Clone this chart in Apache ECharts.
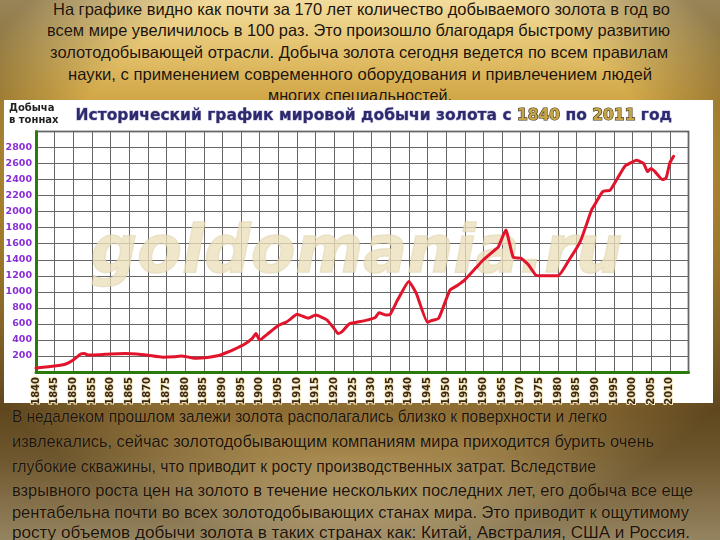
<!DOCTYPE html>
<html>
<head>
<meta charset="utf-8">
<script src="https://cdn.jsdelivr.net/npm/echarts@6/dist/echarts.min.js"></script>
<style>
  html, body { margin:0; padding:0; width:720px; height:540px; overflow:hidden; }
  body {
    position: relative;
    background: linear-gradient(to bottom, #f2dc9c 0%, #e2c06a 10%, #cfa443 19%, #b98e34 45%, #9a7634 70%, #8c6c33 76%, #a4864c 84%, #c9b07a 92%, #efdcab 100%);
    font-family: "Liberation Sans", Arial, sans-serif;
  }
  #vign {
    position:absolute; left:0; top:0; width:720px; height:540px;
    background: radial-gradient(ellipse 60% 62% at 50% 40%, rgba(0,0,0,0) 72%, rgba(40,25,5,0.45) 100%);
  }
  .ln { position:absolute; color:#1c1206; text-shadow: 0 0 1px rgba(255,240,200,0.35); white-space:nowrap; transform-origin: 0 50%; }
  #box { position:absolute; left:4px; top:100px; width:709px; height:303px; background:#ffffff; }
  #chart { position:absolute; left:0; top:0; width:720px; height:540px; }
</style>
</head>
<body>
<div id="vign"></div>
<div id="texts"></div>
<div id="box"></div>
<div id="chart"></div>
<script>
// Data (year, tonnes)
var years = [1840,1845,1848,1850,1852,1853,1854,1857,1860,1864,1867,1870,1874,1877,1879,1881,1883,1886,1889,1891,1893,1896,1898,1899,1900,1902,1905,1907,1908,1910,1913,1915,1918,1920,1921,1922,1924,1926,1929,1931,1932,1934,1935,1937,1940,1942,1945,1946,1948,1951,1953,1955,1958,1960,1963,1964,1966,1968,1970,1972,1974,1975,1980,1983,1986,1989,1990,1992,1994,1996,1998,2000,2001,2003,2004,2005,2006,2008,2009,2010,2011];
var tonnes = [50,75,100,150,225,230,212,215,225,230,225,210,185,190,200,185,170,180,205,240,280,350,420,480,400,470,580,620,650,720,670,710,650,540,480,500,600,620,650,680,740,710,720,900,1130,980,620,640,670,1020,1080,1150,1300,1400,1520,1560,1770,1430,1420,1340,1210,1200,1200,1400,1630,2020,2100,2250,2270,2420,2570,2620,2640,2600,2500,2540,2500,2400,2420,2610,2690];
var titleMain = 'Исторический график мировой добычи золота с ';
var titleYear1 = '1840';
var titleMid = ' по ';
var titleYear2 = '2011';
var titleEnd = ' год';
var yAxisTitle = 'Добыча\nв тоннах';
var watermark = 'goldomania.ru';
var topLines = [
  'На графике видно как почти за 170 лет количество добываемого золота в год во',
  'всем мире увеличилось в 100 раз. Это произошло благодаря быстрому развитию',
  'золотодобывающей отрасли. Добыча золота сегодня ведется по всем правилам',
  'науки, с применением современного оборудования и привлечением людей',
  'многих специальностей.'
];
var bottomLines = [
  'В недалеком прошлом залежи золота располагались близко к поверхности и легко',
  'извлекались, сейчас золотодобывающим компаниям мира приходится бурить очень',
  'глубокие скважины, что приводит к росту производственных затрат. Вследствие',
  'взрывного роста цен на золото в течение нескольких последних лет, его добыча все еще',
  'рентабельна почти во всех золотодобывающих станах мира. Это приводит к ощутимому',
  'росту объемов добычи золота в таких странах как: Китай, Австралия, США и Россия.'
];

// layout of slide text lines: [left, right, centerY]
var topLayout = [[53,670,9],[47,670,30],[50,668,52],[68,652,74],[268,452,95]];
var botLayout = [[12,607,416],[12,654,441],[12,596,466],[12,693,490],[12,689,512],[12,690,532]];
function placeLines(lines, layout, size) {
  var host = document.getElementById('texts');
  lines.forEach(function (t, i) {
    var d = document.createElement('div');
    d.className = 'ln';
    d.textContent = t;
    d.style.fontSize = size + 'px';
    d.style.lineHeight = (size + 4) + 'px';
    host.appendChild(d);
    var w = d.getBoundingClientRect().width;
    var L = layout[i];
    d.style.left = L[0] + 'px';
    d.style.top = (L[2] - (size + 4) / 2) + 'px';
    d.style.transform = 'scaleX(' + ((L[1] - L[0]) / w) + ')';
  });
}
placeLines(topLines, topLayout, 16.5);
placeLines(bottomLines, botLayout, 17);

var points = years.map(function (y, i) { return [y, tonnes[i]]; });

var chart = echarts.init(document.getElementById('chart'), null, { renderer: 'canvas' });
chart.setOption({
  backgroundColor: 'transparent',
  animation: false,
  grid: { left: 36, top: 131.5, right: 31.5, bottom: 168, show: true, borderColor: '#111', borderWidth: 1.5, backgroundColor: 'transparent' },
  xAxis: {
    type: 'value', min: 1840, max: 2015, interval: 5,
    axisLine: { show: true, lineStyle: { color: '#2c7a0c', width: 3 } },
    axisTick: { show: false },
    splitLine: { show: true, lineStyle: { color: '#666', width: 1 } },
    axisLabel: {
      rotate: 90, margin: 5, fontSize: 10, fontWeight: 'bold', fontFamily: 'DejaVu Sans',
      color: '#3a2812', textBorderColor: '#f3e6bf', textBorderWidth: 2,
      formatter: function (v) { return v >= 2015 ? '' : String(v); }
    }
  },
  yAxis: {
    type: 'value', min: 0, max: 3000, interval: 200,
    axisLine: { show: true, lineStyle: { color: '#2c7a0c', width: 3 } },
    axisTick: { show: false },
    splitLine: { show: true, lineStyle: { color: '#666', width: 1 } },
    axisLabel: {
      margin: 4, fontSize: 9.5, fontWeight: 'bold', fontFamily: 'DejaVu Sans', color: '#8a2fd6',
      formatter: function (v) { return (v === 0 || v >= 3000) ? '' : String(v); }
    }
  },
  graphic: [
    {
      type: 'text', z: 1, left: 90, top: 222,
      style: {
        text: watermark, font: 'italic bold 65px "DejaVu Sans"', fill: 'rgba(236,224,188,0.78)',
        stroke: 'rgba(214,200,160,0.55)', lineWidth: 1.5
      }
    },
    {
      type: 'text', z: 5, left: 9, top: 102,
      style: { text: yAxisTitle, font: 'bold 10px "DejaVu Sans"', fill: '#222', lineHeight: 12 }
    },
    {
      type: 'text', z: 5, left: 75, top: 107,
      style: {
        text: '{a|' + titleMain + '}{b|' + titleYear1 + '}{a|' + titleMid + '}{b|' + titleYear2 + '}{a|' + titleEnd + '}',
        rich: {
          a: { font: 'bold 15.5px "DejaVu Sans"', fill: '#2e2a6e', stroke: '#b8b8d8', lineWidth: 1 },
          b: { font: 'bold 15.5px "DejaVu Sans"', fill: '#c6a545', stroke: '#3a3020', lineWidth: 1.2 }
        }
      }
    }
  ],
  series: [{
    type: 'line', z: 3, data: points, showSymbol: false, smooth: 0.15,
    lineStyle: { color: '#e1142c', width: 3, join: 'round', cap: 'round' }
  }]
});
</script>
</body>
</html>
